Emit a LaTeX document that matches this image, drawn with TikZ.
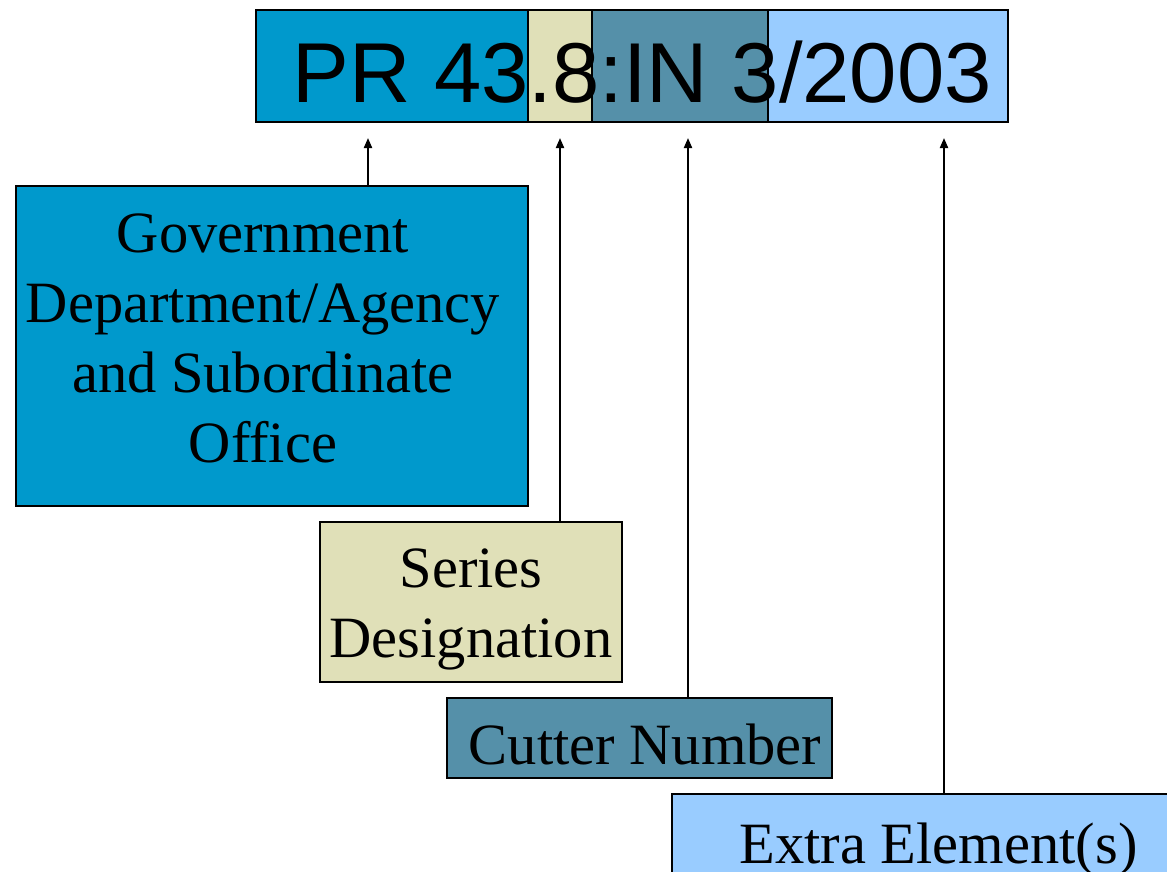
\documentclass[tikz,border=0pt]{standalone}
\usepackage{fontspec}
\setmainfont{Liberation Serif}
\newfontfamily\arialf{Liberation Sans}
\usetikzlibrary{arrows.meta}
\definecolor{cgov}{HTML}{0099CC}
\definecolor{cser}{HTML}{E0E0B8}
\definecolor{ccut}{HTML}{5590A9}
\definecolor{cext}{HTML}{99CCFF}
\begin{document}
\begin{tikzpicture}[x=1pt,y=-1pt,
  cbox/.style={draw=black, line width=2pt, rectangle, inner sep=0pt, outer sep=0pt},
  lbl/.style={inner sep=0pt, outer sep=0pt, align=center, font=\fontsize{58.5}{70}\selectfont},
  conn/.style={line width=2pt, -{Triangle[length=10pt,width=8pt]}}]
\useasboundingbox (0,0) rectangle (1167,871);
% top bar segments
\node[cbox, fill=cgov, minimum width=272pt, minimum height=112pt] (s1) at (392,66) {};
\node[cbox, fill=cser, minimum width=64pt, minimum height=112pt] (s2) at (560,66) {};
\node[cbox, fill=ccut, minimum width=176pt, minimum height=112pt] (s3) at (680,66) {};
\node[cbox, fill=cext, minimum width=240pt, minimum height=112pt] (s4) at (888,66) {};
\node[inner sep=0pt, outer sep=0pt, anchor=base west, font=\arialf\fontsize{85}{100}\selectfont] (code) at (292.5,102) {PR 43.8:IN 3/2003};
% boxes
\node[cbox, fill=cgov, minimum width=512pt, minimum height=320pt] (b1) at (272,346) {};
\node[lbl] (l1) at (263,338.6) {Government\\Department/Agency\\and Subordinate\\Office};
\node[cbox, fill=cser, minimum width=302pt, minimum height=160pt] (b2) at (471,602) {};
\node[lbl] (l2) at (471,609.6) {Series\\Designation};
\node[cbox, fill=ccut, minimum width=385pt, minimum height=80pt] (b3) at (639.5,738) {};
\node[lbl, anchor=base] (l3) at (645,764) {Cutter Number};
\node[cbox, fill=cext, minimum width=532pt, minimum height=106pt] (b4) at (938,847) {};
\node[lbl, anchor=base] (l4) at (938.5,863) {Extra Element(s)};
% arrow tips
\coordinate (t1) at (368,138);
\coordinate (t2) at (560,138);
\coordinate (t3) at (688,138);
\coordinate (t4) at (944,138);
\draw[conn] (b1.north -| t1) -- (t1);
\draw[conn] (b2.north -| t2) -- (t2);
\draw[conn] (b3.north -| t3) -- (t3);
\draw[conn] (b4.north -| t4) -- (t4);
\end{tikzpicture}
\end{document}
